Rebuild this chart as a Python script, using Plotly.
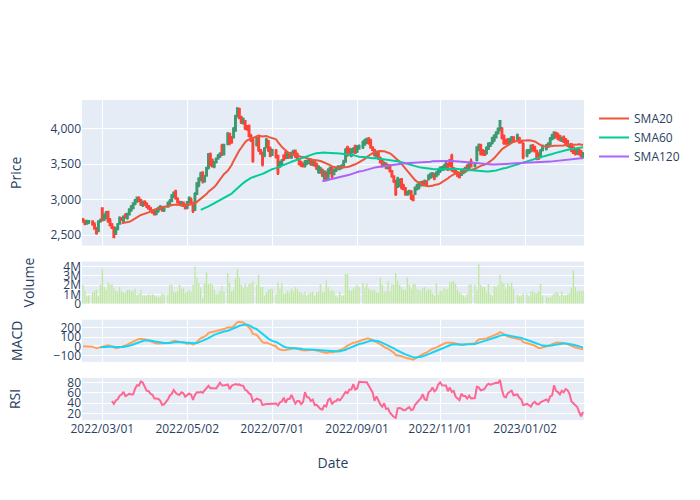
import pandas as pd
import plotly.graph_objects as go
from plotly.subplots import make_subplots

holidays = ["2022-02-21", "2022-04-15", "2022-05-30", "2022-06-20", "2022-07-04",
            "2022-09-05", "2022-11-24", "2022-12-26", "2023-01-02", "2023-01-16"]
all_days = pd.bdate_range("2022-02-15", "2023-02-13")
dates = all_days[~all_days.isin(pd.to_datetime(holidays))]

open_ = [
    2720, 2700, 2660, 2680, 2690, 2650, 2600, 2560, 2690, 2880,
    2720, 2740, 2830, 2710, 2650, 2610, 2520, 2590, 2660, 2740,
    2700, 2780, 2740, 2790, 2850, 2880, 2940, 2980, 3020, 2990,
    2920, 2970, 2940, 2910, 2880, 2850, 2830, 2800, 2840, 2870,
    2890, 2850, 2900, 2940, 2980, 3050, 3120, 3010, 2970, 2930,
    2960, 2920, 2890, 2960, 3000, 2950, 2860, 3080, 3200, 3280,
    3380, 3260, 3340, 3450, 3640, 3560, 3470, 3530, 3580, 3610,
    3760, 3640, 3790, 3930, 3880, 3880, 3980, 4180, 4280, 4160,
    4080, 4110, 4030, 4040, 3900, 3860, 3770, 3900, 3700, 3660,
    3620, 3740, 3830, 3720, 3630, 3690, 3620, 3470, 3500, 3620,
    3670, 3590, 3650, 3600, 3640, 3690, 3640, 3570, 3530, 3500,
    3480, 3510, 3520, 3560, 3500, 3540, 3500, 3390, 3380, 3420,
    3300, 3380, 3300, 3380, 3440, 3360, 3410, 3430, 3440, 3450,
    3480, 3540, 3740, 3720, 3620, 3680, 3760, 3680, 3720, 3740,
    3780, 3800, 3860, 3840, 3740, 3700, 3620, 3660, 3590, 3550,
    3480, 3510, 3450, 3470, 3400, 3330, 3260, 3180, 3200, 3290,
    3200, 3160, 3070, 3090, 3110, 3050, 3080, 3150, 3170, 3200,
    3250, 3200, 3260, 3290, 3310, 3330, 3360, 3330, 3360, 3400,
    3420, 3430, 3450, 3500, 3560, 3620, 3440, 3420, 3380, 3370,
    3350, 3380, 3400, 3480, 3450, 3540, 3480, 3560, 3700, 3770,
    3700, 3680, 3660, 3720, 3760, 3800, 3840, 3880, 3940, 3990,
    4000, 3900, 3840, 3850, 3810, 3830, 3880, 3850, 3870, 3830,
    3790, 3620, 3660, 3690, 3760, 3740, 3690, 3650, 3600, 3700,
    3720, 3750, 3780, 3860, 3880, 3940, 3920, 3900, 3830, 3880,
    3850, 3830, 3750, 3780, 3740, 3700, 3650, 3700, 3680, 3600,
]

close = [
    2690, 2660, 2690, 2700, 2650, 2590, 2530, 2690, 2710, 2710,
    2780, 2820, 2700, 2640, 2600, 2470, 2600, 2650, 2740, 2720,
    2760, 2750, 2800, 2860, 2900, 2950, 2990, 3030, 2980, 2930,
    2970, 2930, 2900, 2870, 2850, 2820, 2790, 2850, 2880, 2900,
    2850, 2900, 2950, 2980, 3060, 3100, 3020, 2960, 2930, 2960,
    2910, 2880, 2960, 3030, 2950, 2840, 3080, 3230, 3300, 3370,
    3260, 3320, 3450, 3640, 3490, 3470, 3530, 3580, 3620, 3650,
    3640, 3770, 3930, 3800, 3810, 4000, 4180, 4290, 4150, 4090,
    4140, 4010, 3990, 3900, 3840, 3550, 3880, 3700, 3650, 3500,
    3720, 3850, 3700, 3620, 3700, 3600, 3380, 3530, 3550, 3570,
    3590, 3650, 3600, 3660, 3690, 3610, 3580, 3500, 3480, 3470,
    3540, 3550, 3560, 3500, 3550, 3480, 3440, 3470, 3440, 3340,
    3400, 3280, 3420, 3450, 3330, 3420, 3440, 3460, 3470, 3480,
    3540, 3700, 3630, 3640, 3700, 3720, 3660, 3740, 3760, 3810,
    3840, 3860, 3800, 3740, 3700, 3630, 3670, 3580, 3530, 3480,
    3520, 3450, 3480, 3400, 3330, 3260, 3080, 3300, 3280, 3170,
    3150, 3080, 3110, 3120, 3020, 2990, 3170, 3200, 3230, 3250,
    3210, 3260, 3220, 3340, 3360, 3370, 3300, 3380, 3410, 3450,
    3460, 3480, 3510, 3420, 3480, 3420, 3400, 3370, 3340, 3320,
    3400, 3420, 3450, 3440, 3510, 3470, 3510, 3740, 3770, 3650,
    3640, 3630, 3730, 3790, 3800, 3870, 3900, 3950, 4000, 4110,
    3870, 3800, 3790, 3800, 3850, 3880, 3820, 3910, 3810, 3820,
    3600, 3690, 3700, 3760, 3700, 3680, 3580, 3580, 3690, 3760,
    3770, 3790, 3860, 3910, 3950, 3880, 3860, 3850, 3870, 3820,
    3780, 3760, 3770, 3690, 3660, 3650, 3690, 3640, 3620, 3650,
]

upper_wick = [
    20, 15, 25, 10, 20, 30, 15, 20, 25, 10,
    25, 20, 15, 30, 20, 15, 10, 20, 25, 15,
    20, 30, 15, 20, 25, 15, 20, 10, 25, 20,
    15, 20, 25, 15, 20, 10, 30, 15, 20, 25,
    20, 15, 25, 30, 20, 15, 20, 25, 10, 20,
    15, 25, 20, 15, 30, 20, 25, 20, 15, 25,
    20, 30, 15, 20, 25, 20, 15, 10, 25, 20,
    30, 20, 25, 15, 20, 25, 20, 15, 20, 25,
    20, 15, 25, 20, 30, 15, 25, 20, 15, 20,
    25, 20, 15, 30, 20, 25, 15, 20, 25, 20,
    15, 20, 25, 20, 15, 20, 25, 15, 20, 25,
    20, 15, 25, 20, 15, 30, 20, 15, 25, 20,
    15, 20, 25, 20, 30, 15, 20, 25, 15, 20,
    25, 30, 20, 15, 25, 20, 15, 30, 20, 25,
    20, 15, 25, 20, 15, 20, 25, 15, 20, 25,
    20, 15, 25, 30, 20, 15, 20, 25, 20, 15,
    25, 20, 15, 20, 25, 20, 15, 25, 20, 15,
    20, 25, 15, 20, 25, 20, 15, 20, 25, 20,
    15, 20, 25, 20, 15, 30, 20, 15, 25, 20,
    20, 25, 15, 20, 25, 40, 20, 15, 25, 20,
    15, 20, 25, 20, 15, 20, 25, 15, 20, 10,
    25, 20, 15, 20, 25, 20, 15, 25, 20, 15,
    20, 25, 15, 20, 25, 20, 15, 20, 25, 20,
    15, 20, 25, 20, 15, 20, 25, 15, 20, 25,
    20, 15, 25, 20, 15, 20, 25, 15, 20, 25,
]

lower_wick = [
    15, 20, 10, 25, 20, 15, 25, 20, 15, 20,
    20, 15, 25, 20, 15, 15, 20, 25, 15, 20,
    15, 20, 25, 15, 20, 10, 20, 25, 15, 20,
    25, 15, 20, 10, 25, 20, 15, 20, 25, 15,
    20, 25, 15, 20, 10, 25, 20, 15, 20, 25,
    15, 20, 25, 15, 20, 30, 20, 15, 25, 20,
    30, 20, 15, 25, 20, 15, 25, 20, 15, 20,
    25, 15, 20, 30, 20, 15, 25, 20, 15, 20,
    20, 25, 15, 20, 25, 30, 20, 25, 15, 30,
    20, 15, 25, 20, 15, 20, 30, 20, 15, 25,
    20, 15, 20, 25, 15, 20, 25, 15, 20, 15,
    25, 20, 15, 20, 25, 15, 20, 25, 15, 20,
    25, 20, 15, 20, 25, 15, 20, 15, 25, 20,
    15, 20, 25, 15, 20, 25, 15, 20, 15, 25,
    20, 15, 25, 20, 15, 20, 25, 15, 20, 25,
    15, 20, 25, 15, 20, 25, 30, 15, 20, 25,
    20, 25, 15, 20, 25, 10, 15, 20, 25, 15,
    20, 15, 25, 20, 15, 20, 25, 15, 20, 25,
    15, 20, 25, 15, 20, 25, 20, 15, 25, 20,
    15, 20, 25, 15, 20, 15, 25, 20, 15, 25,
    20, 15, 25, 20, 15, 20, 25, 15, 20, 25,
    20, 25, 15, 20, 15, 25, 20, 15, 20, 25,
    30, 20, 15, 25, 20, 15, 25, 20, 15, 20,
    25, 20, 15, 20, 25, 15, 20, 25, 15, 20,
    20, 15, 25, 20, 15, 25, 20, 15, 25, 20,
]

volume_m = [
    2.0, 1.4, 0.8, 0.9, 1.2, 1.4, 1.5, 0.8, 2.0, 3.7,
    1.8, 1.5, 2.3, 2.0, 2.1, 1.7, 1.4, 1.3, 1.8, 1.3,
    1.2, 1.2, 1.5, 1.5, 1.4, 1.4, 1.6, 0.9, 1.1, 1.5,
    0.9, 0.9, 0.9, 1.0, 0.9, 1.0, 0.9, 0.8, 0.7, 0.8,
    1.1, 1.0, 1.0, 2.0, 2.0, 1.3, 1.2, 1.4, 2.0, 1.6,
    1.7, 1.2, 1.3, 1.5, 1.3, 2.0, 4.0, 2.8, 2.2, 1.7,
    0.6, 2.2, 3.4, 2.1, 2.2, 2.0, 1.5, 1.0, 1.1, 1.4,
    1.9, 1.3, 3.3, 2.3, 1.3, 1.5, 2.7, 3.7, 2.8, 2.0,
    1.7, 2.1, 1.8, 2.1, 2.2, 2.4, 2.0, 3.1, 1.8, 1.8,
    0.9, 1.2, 1.5, 1.6, 1.6, 1.0, 2.3, 1.6, 2.2, 1.1,
    1.1, 1.4, 1.2, 1.6, 1.3, 1.8, 1.6, 1.3, 1.2, 1.0,
    1.3, 0.9, 1.1, 1.2, 1.3, 0.9, 1.2, 1.3, 2.1, 1.2,
    1.3, 2.5, 1.8, 1.4, 1.5, 1.3, 0.9, 0.7, 1.3, 0.9,
    0.9, 3.2, 3.2, 1.5, 1.4, 1.6, 1.8, 2.0, 1.8, 2.3,
    1.8, 2.2, 1.6, 1.5, 1.4, 1.5, 1.2, 1.2, 2.8, 2.0,
    1.3, 1.3, 2.4, 1.3, 2.1, 2.0, 3.3, 2.5, 2.0, 1.8,
    1.5, 1.5, 2.8, 2.0, 1.6, 2.1, 2.1, 1.6, 1.5, 1.4,
    1.7, 1.8, 1.4, 1.6, 1.5, 1.1, 0.9, 2.2, 1.0, 1.4,
    1.4, 1.7, 1.5, 1.6, 2.3, 2.4, 2.4, 2.2, 1.5, 1.2,
    1.0, 0.9, 0.7, 1.0, 2.0, 2.1, 2.0, 1.5, 4.3, 2.0,
    1.8, 1.8, 1.2, 2.1, 1.0, 0.9, 1.9, 1.8, 2.0, 3.1,
    2.4, 2.2, 1.6, 2.2, 1.9, 2.3, 1.6, 1.0, 0.8, 0.9,
    1.1, 1.0, 0.8, 1.3, 1.4, 1.2, 1.1, 1.3, 2.1, 0.9,
    0.8, 0.7, 0.7, 0.9, 1.1, 1.3, 1.2, 0.8, 1.3, 0.9,
    0.9, 1.0, 1.1, 1.7, 3.6, 1.8, 1.3, 1.4, 1.4, 1.4,
]

df = pd.DataFrame({"open": open_, "close": close,
                   "uw": upper_wick, "lw": lower_wick,
                   "volume": [v * 1e6 for v in volume_m]}, index=dates)
df["high"] = df[["open", "close"]].max(axis=1) + df["uw"]
df["low"] = df[["open", "close"]].min(axis=1) - df["lw"]

# indicators derived from the close prices
df["SMA20"] = df["close"].rolling(20).mean()
df["SMA60"] = df["close"].rolling(60).mean()
df["SMA120"] = df["close"].rolling(120).mean()
ema12 = df["close"].ewm(span=12, adjust=False).mean()
ema26 = df["close"].ewm(span=26, adjust=False).mean()
df["MACD"] = ema12 - ema26
df["Signal"] = df["MACD"].ewm(span=9, adjust=False, min_periods=9).mean()
delta = df["close"].diff()
gain = delta.clip(lower=0).rolling(14).mean()
loss = (-delta.clip(upper=0)).rolling(14).mean()
df["RSI"] = 100 - 100 / (1 + gain / loss)

fig = make_subplots(rows=4, cols=1, shared_xaxes=True, vertical_spacing=0.05,
                    row_heights=[0.535, 0.155, 0.155, 0.155])

fig.add_trace(go.Candlestick(x=df.index, open=df["open"], high=df["high"],
                             low=df["low"], close=df["close"], name="Price",
                             showlegend=False), row=1, col=1)
for name, color in [("SMA20", "#EF553B"), ("SMA60", "#00CC96"), ("SMA120", "#AB63FA")]:
    fig.add_trace(go.Scatter(x=df.index, y=df[name], mode="lines", name=name,
                             line=dict(color=color, width=2)), row=1, col=1)

fig.add_trace(go.Bar(x=df.index, y=df["volume"], name="Volume",
                     marker_color="#B6E880", showlegend=False), row=2, col=1)

fig.add_trace(go.Scatter(x=df.index, y=df["MACD"], mode="lines", name="MACD",
                         line=dict(color="#FFA15A", width=2), showlegend=False), row=3, col=1)
fig.add_trace(go.Scatter(x=df.index, y=df["Signal"], mode="lines", name="Signal",
                         line=dict(color="#19D3F3", width=2), showlegend=False), row=3, col=1)

fig.add_trace(go.Scatter(x=df.index, y=df["RSI"], mode="lines", name="RSI",
                         line=dict(color="#FF6692", width=2), showlegend=False), row=4, col=1)

fig.update_xaxes(rangebreaks=[dict(bounds=["sat", "mon"])], tickformat="%Y/%m/%d",
                 rangeslider_visible=False)
fig.update_xaxes(title_text="Date", title_standoff=22, row=4, col=1)
fig.update_yaxes(title_text="Price", tickformat=",", title_standoff=25, row=1, col=1)
fig.update_yaxes(title_text="Volume", title_standoff=25, row=2, col=1)
fig.update_yaxes(title_text="MACD", title_standoff=27, row=3, col=1)
fig.update_yaxes(title_text="RSI", title_standoff=43, row=4, col=1)
fig.update_layout(width=700, height=500, xaxis_rangeslider_visible=False,
                  margin=dict(l=82, r=116, t=100, b=80),
                  legend=dict(y=0.9875))

fig.write_html("out.html", config={"displayModeBar": False},
               post_script="document.body.style.margin='0px';document.body.style.padding='0px';")
